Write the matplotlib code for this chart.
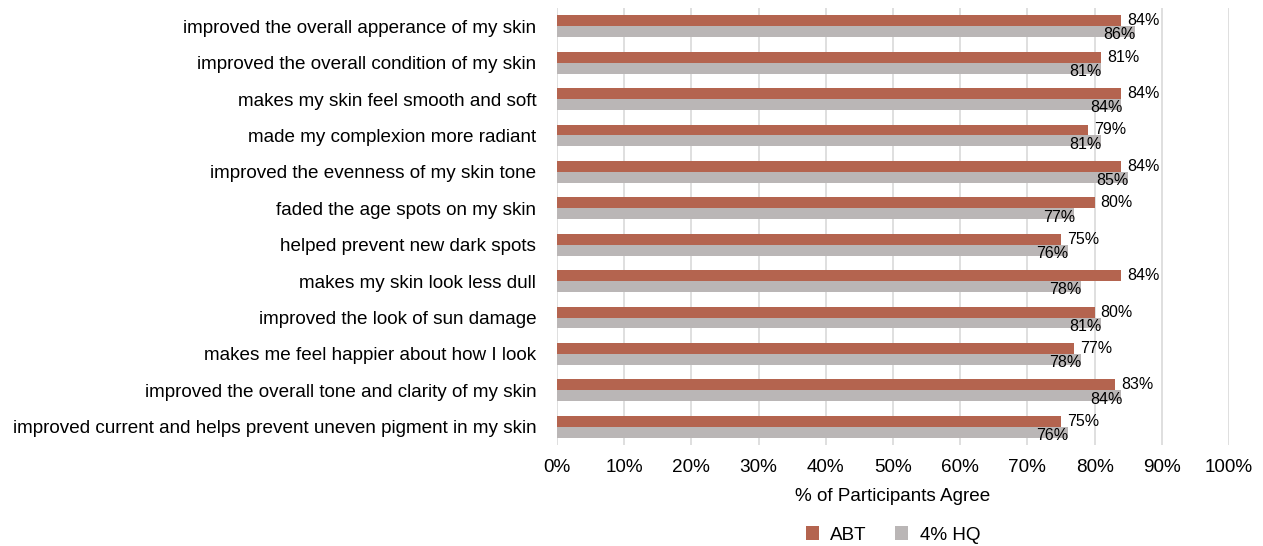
import numpy as np
import matplotlib
matplotlib.use("Agg")
import matplotlib.pyplot as plt
from matplotlib.ticker import PercentFormatter

plt.rcParams['font.family'] = ['Liberation Sans', 'DejaVu Sans']

# ---------------------------------
# data
# ---------------------------------
statements = [
    "improved the overall apperance of my skin",
    "improved the overall condition of my skin",
    "makes my skin feel smooth and soft",
    "made my complexion more radiant",
    "improved the evenness of my skin tone",
    "faded the age spots on my skin",
    "helped prevent new dark spots",
    "makes my skin look less dull",
    "improved the look of sun damage",
    "makes me feel happier about how I look",
    "improved the overall tone and clarity of my skin",
    "improved current and helps prevent uneven pigment in my skin",
]
abt = [84, 81, 84, 79, 84, 80, 75, 84, 80, 77, 83, 75]
hq = [86, 81, 84, 81, 85, 77, 76, 78, 81, 78, 84, 76]
series_names = ["ABT", "4% HQ"]

RED = "#B4644F"
GRAY = "#BAB6B6"

# ---------------------------------
# figure
# ---------------------------------
W, H = 1263, 546
fig = plt.figure(figsize=(W / 100, H / 100), dpi=100)
ax = fig.add_axes([557 / W, 1 - 445 / H, (1229 - 557) / W, (445 - 8) / H])

y = np.arange(len(statements))
h = 0.3
ax.barh(y - h / 2, abt, height=h, color=RED, label=series_names[0], zorder=3)
ax.barh(y + h / 2, hq, height=h, color=GRAY, label=series_names[1], zorder=3)

for yi, v in zip(y, abt):
    ax.text(v + 0.9, yi - h / 2, f"{v}%", ha="left", va="center", fontsize=11.5, zorder=4)
for yi, v in zip(y, hq):
    ax.text(v + 0.1, yi + h / 2 + 0.09, f"{v}%", ha="right", va="center", fontsize=11.5, zorder=4)

ax.set_xlim(0, 100)
ax.set_ylim(len(statements) - 0.5, -0.5)
ax.set_xticks(np.arange(0, 101, 10))
ax.xaxis.set_major_formatter(PercentFormatter(decimals=0))
ax.set_yticks(y)
ax.set_yticklabels(statements, fontsize=13.6)
ax.tick_params(axis="x", labelsize=13.6, length=0, pad=10)
ax.tick_params(axis="y", length=0, pad=15)
ax.grid(axis="x", color="#D9D9D9", linewidth=1.2, zorder=0)
for s in ax.spines.values():
    s.set_visible(False)

ax.set_xlabel("% of Participants Agree", fontsize=13.6, labelpad=9)

fig.legend(loc="center", bbox_to_anchor=(893 / W, 1 - 535 / H), ncol=2,
           frameon=False, fontsize=13.6, handlelength=0.7, handleheight=0.7,
           columnspacing=1.5, handletextpad=0.6)

fig.savefig("out.png", dpi=100)
